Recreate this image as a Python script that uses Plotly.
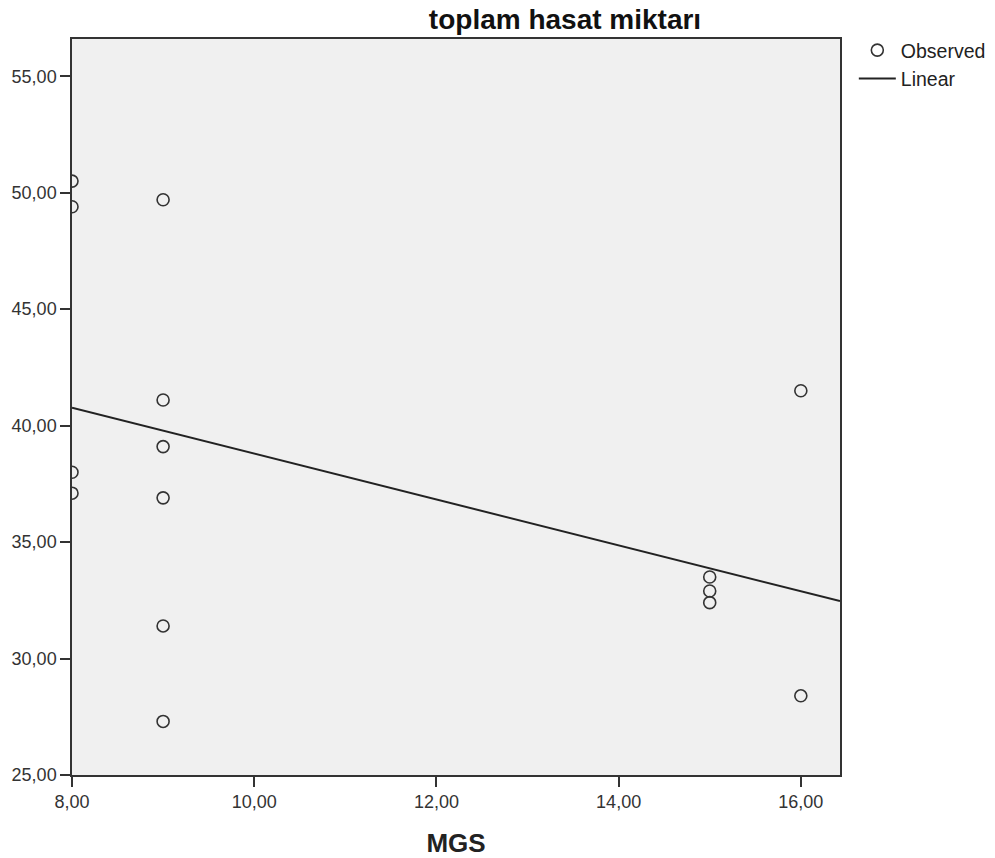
import numpy as np
import plotly.graph_objects as go

# Data
mgs = [8, 8, 8, 8, 9, 9, 9, 9, 9, 9, 15, 15, 15, 16, 16]
hasat = [50.5, 49.4, 38.0, 37.1, 49.7, 41.1, 39.1, 36.9, 31.4, 27.3, 33.5, 32.9, 32.4, 41.5, 28.4]

x_range = [8.0, 16.43]
y_range = [25.0, 56.6]
y_ticks = [25, 30, 35, 40, 45, 50, 55]
x_ticks = [8, 10, 12, 14, 16]

slope, intercept = np.polyfit(mgs, hasat, 1)
line_x = np.array(x_range)
line_y = slope * line_x + intercept

FONT = "Liberation Sans, Arial"

fig = go.Figure()
fig.add_trace(go.Scatter(
    x=mgs, y=hasat, mode="markers", name="Observed",
    marker=dict(symbol="circle-open", size=12, color="#333333", line=dict(width=1.6)),
    cliponaxis=True,
))
fig.add_trace(go.Scatter(
    x=line_x, y=line_y, mode="lines", name="Linear",
    line=dict(color="#222222", width=2),
))

axis_common = dict(
    showline=True, linecolor="#333333", linewidth=1.5, mirror=True,
    ticks="outside", ticklen=10, tickwidth=2, tickcolor="#333333",
    showgrid=False, zeroline=False, automargin=False,
    tickfont=dict(family=FONT, size=18, color="#333333"),
    tickformat=".2f",
)

fig.update_layout(
    width=995, height=858,
    margin=dict(l=64, r=161, t=31, b=91),
    paper_bgcolor="white",
    plot_bgcolor="#f0f0f0",
    separators=",.",
    title=dict(text="<b>toplam hasat miktarı</b>", x=557/995, xanchor="center",
               y=1 - 1/858, yanchor="top", xref="container", yref="container",
               font=dict(family=FONT, size=28, color="#111111")),
    xaxis=dict(range=x_range, tickvals=x_ticks,
               title=dict(text="<b>MGS</b>", standoff=22,
                          font=dict(family=FONT, size=26, color="#222222")),
               **axis_common),
    yaxis=dict(range=y_range, tickvals=y_ticks, **axis_common),
    legend=dict(x=1.018, y=1.011, xanchor="left", yanchor="top",
                bgcolor="rgba(0,0,0,0)", tracegroupgap=0, itemwidth=37,
                font=dict(family=FONT, size=19.5, color="#222222")),
)

fig.write_html("out.html")
